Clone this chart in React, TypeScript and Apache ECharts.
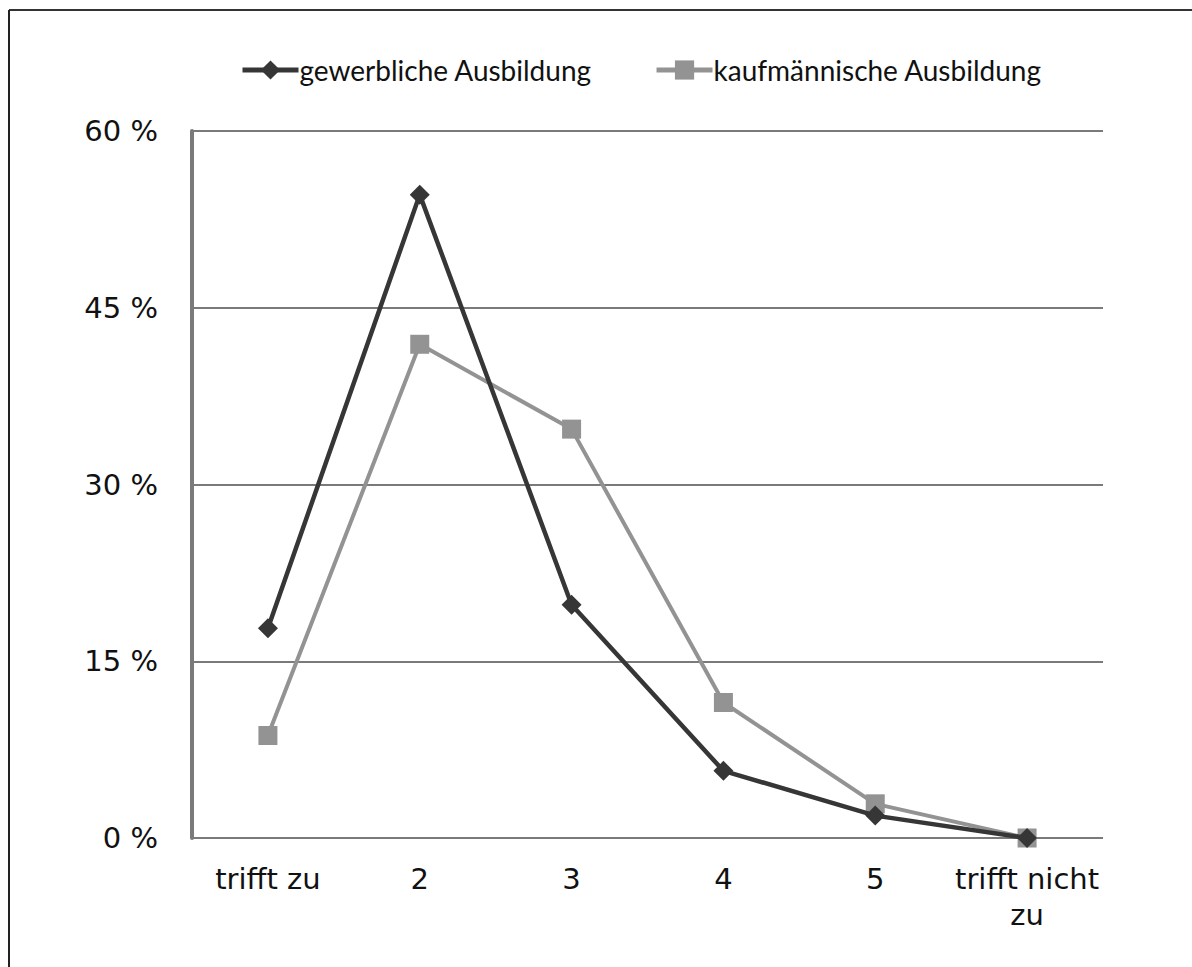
import React, { useEffect, useRef } from "react";
import * as echarts from "echarts";

const categories = ["trifft zu", "2", "3", "4", "5", "trifft nicht\nzu"];
const gewerblich = [17.8, 54.6, 19.8, 5.7, 1.9, 0];
const kaufmaennisch = [8.7, 41.9, 34.7, 11.5, 2.9, 0];
const seriesNames = ["gewerbliche Ausbildung", "kaufmännische Ausbildung"];

export default function App() {
  const ref = useRef<HTMLDivElement>(null);
  useEffect(() => {
    if (!ref.current) return;
    const chart = echarts.init(ref.current, undefined, { renderer: "svg" });
    chart.setOption({
      animation: false,
      backgroundColor: "#ffffff",
      graphic: [
        { type: "line", shape: { x1: 9, y1: 10, x2: 1192, y2: 10 }, style: { stroke: "#333", lineWidth: 2 } },
        { type: "line", shape: { x1: 9, y1: 10, x2: 9, y2: 967 }, style: { stroke: "#222", lineWidth: 2 } },
      ],
      legend: {
        top: 51,
        left: 235,
        itemWidth: 56,
        itemHeight: 24,
        itemGap: 62,
        lineStyle: { width: 5 },
        textStyle: { fontFamily: "Lato", fontSize: 28, color: "#111", padding: [0, 0, 0, -4] },
        data: [seriesNames[0], seriesNames[1]],
      },
      grid: { left: 192, right: 89, top: 131, bottom: 129, containLabel: false },
      xAxis: {
        type: "category",
        data: categories,
        boundaryGap: true,
        axisLine: { show: false },
        axisTick: { show: false },
        axisLabel: { fontFamily: "DejaVu Sans", fontSize: 29, color: "#111", margin: 23, interval: 0, lineHeight: 36 },
      },
      yAxis: {
        type: "value",
        min: 0,
        max: 60,
        interval: 15,
        axisLine: { show: true, lineStyle: { color: "#7a7a7a", width: 4 } },
        axisTick: { show: false },
        splitLine: { lineStyle: { color: "#7a7a7a", width: 2 } },
        axisLabel: { fontFamily: "DejaVu Sans", fontSize: 29, color: "#111", margin: 34, formatter: "{value} %" },
      },
      series: [
        {
          name: seriesNames[0],
          type: "line",
          data: gewerblich,
          symbol: "diamond",
          symbolSize: 20,
          lineStyle: { color: "#363636", width: 4.5 },
          itemStyle: { color: "#363636" },
          z: 3,
        },
        {
          name: seriesNames[1],
          type: "line",
          data: kaufmaennisch,
          symbol: "rect",
          symbolSize: 19,
          lineStyle: { color: "#939393", width: 4 },
          itemStyle: { color: "#939393" },
          z: 2,
        },
      ],
    });
    return () => chart.dispose();
  }, []);
  return <div ref={ref} style={{ width: 1192, height: 967, position: "absolute", left: 0, top: 0 }} />;
}
